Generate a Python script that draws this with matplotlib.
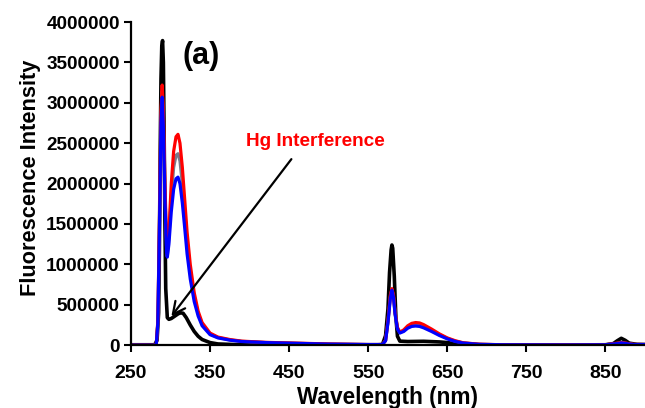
import matplotlib.pyplot as plt

plt.rcParams['font.family'] = ['Liberation Sans', 'DejaVu Sans']
plt.rcParams['font.weight'] = 'bold'

# black spectrum
wl_black = [250, 280, 283, 285, 286, 287, 288, 289, 290, 291, 292, 293, 294, 296, 298,
            301, 304, 307, 310, 313, 316, 320, 325, 330, 335, 340, 350, 360, 380, 400,
            450, 500, 560, 568, 572, 575, 577, 579, 580, 581, 583, 585, 587, 590, 600,
            620, 640, 650, 660, 680, 700, 800, 850, 860, 865, 870, 875, 880, 890, 900]
int_black = [5000, 5000, 60000, 400000, 1200000, 2400000, 3300000, 3700000, 3770000, 3500000,
             2600000, 1500000, 700000, 340000, 320000,
             330000, 350000, 370000, 390000, 400000, 395000, 340000, 250000, 170000, 110000,
             70000, 32000, 15000, 8000, 5000,
             4000, 3000, 3000, 8000, 120000, 450000, 900000, 1180000, 1240000, 1200000,
             850000, 350000, 110000, 50000, 45000,
             48000, 40000, 32000, 20000, 8000, 3000, 3000, 5000, 20000, 55000, 85000, 60000,
             25000, 10000, 8000]

# red spectrum
wl_red = [250, 282, 284, 286, 288, 289.5, 291, 293, 295, 296, 298, 301, 304, 307, 309.5,
          312, 315, 318, 321, 325, 330, 335, 340, 350, 360, 375, 390, 420, 460, 500, 550,
          568, 572, 575, 578, 580, 582, 584, 587, 590, 595, 600, 605, 610, 615, 620, 630,
          640, 650, 660, 670, 690, 720, 800, 850, 865, 870, 876, 885, 900]
int_red = [0, 0, 300000, 1500000, 2900000, 3220000, 2900000, 2000000, 1300000, 1150000,
           1400000, 2000000, 2400000, 2580000, 2610000,
           2500000, 2200000, 1800000, 1400000, 1000000, 650000, 420000, 280000, 150000,
           100000, 70000, 50000, 35000, 25000, 15000, 8000,
           8000, 60000, 300000, 620000, 700000, 620000, 400000, 220000, 160000, 190000,
           240000, 270000, 280000, 275000, 255000, 200000,
           140000, 90000, 55000, 30000, 12000, 5000, 3000, 5000, 25000, 32000, 25000, 10000, 8000]

# grey spectrum
wl_grey = wl_red
int_grey = [0, 0, 280000, 1450000, 2850000, 3150000, 2800000, 1900000, 1230000, 1100000,
            1330000, 1850000, 2200000, 2350000, 2370000,
            2280000, 2000000, 1650000, 1280000, 920000, 600000, 390000, 260000, 140000,
            95000, 65000, 47000, 33000, 23000, 14000, 8000,
            8000, 58000, 290000, 600000, 690000, 600000, 390000, 210000, 155000, 180000,
            225000, 250000, 258000, 253000, 235000, 185000,
            130000, 85000, 50000, 28000, 11000, 5000, 3000, 5000, 22000, 30000, 22000, 9000, 8000]

# blue spectrum
wl_blue = wl_red
int_blue = [0, 0, 270000, 1400000, 2750000, 3070000, 2700000, 1800000, 1150000, 1090000,
            1250000, 1650000, 1930000, 2060000, 2080000,
            2000000, 1760000, 1450000, 1130000, 820000, 540000, 360000, 240000, 130000,
            90000, 62000, 45000, 32000, 22000, 13000, 8000,
            8000, 55000, 280000, 580000, 680000, 590000, 380000, 200000, 150000, 170000,
            210000, 232000, 237000, 232000, 215000, 170000,
            120000, 78000, 46000, 26000, 10000, 5000, 3000, 5000, 20000, 28000, 20000, 8000, 8000]

x_ticks = [250, 350, 450, 550, 650, 750, 850]
y_ticks = [0, 500000, 1000000, 1500000, 2000000, 2500000, 3000000, 3500000, 4000000]

fig = plt.figure(figsize=(6.45, 4.08), dpi=100)
ax = fig.add_axes([0.203, 0.154, 0.797, 0.792])

ax.plot(wl_black, int_black, color='black', lw=2.6)
ax.plot(wl_grey, int_grey, color='#7a7a8a', lw=2.3)
ax.plot(wl_red, int_red, color='red', lw=2.3)
ax.plot(wl_blue, int_blue, color='blue', lw=2.3)

ax.annotate('', xy=(299, 330000), xytext=(455, 2330000),
            arrowprops=dict(arrowstyle='->', color='black', lw=1.6, mutation_scale=22))
ax.text(483, 2520000, 'Hg Interference', color='red', fontsize=13.7, fontweight='bold',
        ha='center', va='center')
ax.text(315, 3580000, '(a)', fontsize=22, fontweight='bold', ha='left', va='center')

ax.set_xlim(250, 900)
ax.set_ylim(0, 4000000)
ax.set_xticks(x_ticks)
ax.set_yticks(y_ticks)
ax.set_xticklabels([str(v) for v in x_ticks], fontsize=14, fontweight='bold')
ax.set_yticklabels([str(v) for v in y_ticks], fontsize=13.7, fontweight='bold')
ax.set_xlabel('Wavelength (nm)', fontsize=16.3, fontweight='bold', labelpad=3)
ax.set_ylabel('Fluorescence Intensity', fontsize=15.7, fontweight='bold', labelpad=9)
ax.yaxis.set_label_coords(-0.175, 0.519)

ax.spines['top'].set_visible(False)
ax.spines['right'].set_visible(False)
ax.spines['left'].set_linewidth(1.6)
ax.spines['bottom'].set_linewidth(1.6)
ax.tick_params(width=1.5, length=5)
ax.tick_params(axis='x', pad=9)
ax.tick_params(axis='y', pad=3)

plt.savefig('out.png')
